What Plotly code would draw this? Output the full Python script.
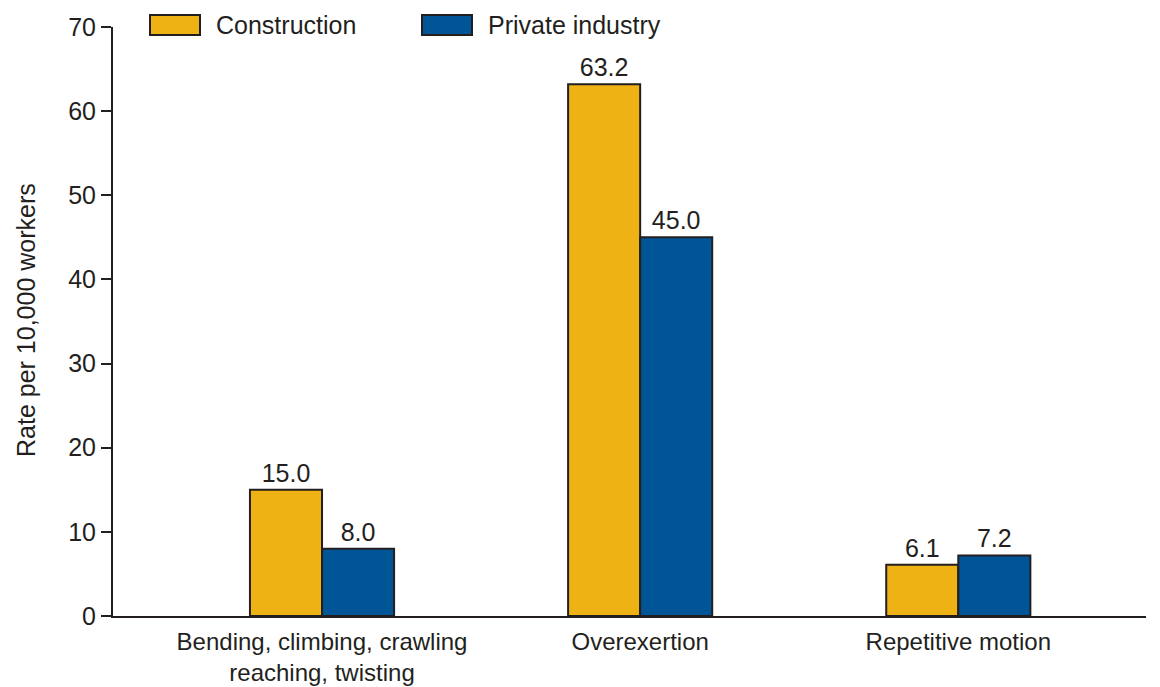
import plotly.graph_objects as go

categories = ["Bending, climbing, crawling<br>reaching, twisting", "Overexertion", "Repetitive motion"]
construction = [15.0, 63.2, 6.1]
private_industry = [8.0, 45.0, 7.2]
series_names = ["Construction", "Private industry"]
y_ticks = [0, 10, 20, 30, 40, 50, 60, 70]
y_title = "Rate per 10,000 workers"

GOLD = "#EFB215"
BLUE = "#005596"
DARK = "#231F20"
FONT = "Liberation Sans, Arial, sans-serif"
FS = 25

W, H = 1160, 687
L, R, T, B = 113, 14, 27, 71
plot_w = W - L - R
plot_h = H - T - B

def px_x(x):
    return (x - L) / plot_w

def px_y(y):
    return (H - B - y) / plot_h

fig = go.Figure()
for name, vals, col in [(series_names[0], construction, GOLD), (series_names[1], private_industry, BLUE)]:
    fig.add_trace(go.Bar(
        x=categories, y=vals, name=name,
        marker=dict(color=col, line=dict(color=DARK, width=2)),
        text=[f"{v:.1f}" for v in vals], textposition="outside",
        textfont=dict(family=FONT, size=FS, color=DARK),
        cliponaxis=False,
    ))

fig.update_layout(
    width=W, height=H,
    margin=dict(l=L, r=R, t=T, b=B, autoexpand=False),
    paper_bgcolor="white", plot_bgcolor="white",
    barmode="group", bargap=0.547, bargroupgap=0,
    showlegend=False,
    font=dict(family=FONT, size=FS, color=DARK),
)
fig.update_xaxes(
    range=[-0.657, 2.59], showgrid=False, zeroline=False, automargin=False,
    showline=True, linecolor=DARK, linewidth=2,
    ticks="outside", ticklen=3, tickcolor="rgba(0,0,0,0)",
    tickfont=dict(family=FONT, size=24, color=DARK),
)
fig.update_yaxes(
    range=[0, 70], tickvals=y_ticks, showgrid=False, zeroline=False, automargin=False,
    showline=True, linecolor=DARK, linewidth=2,
    ticks="outside", ticklen=10, tickwidth=2, tickcolor=DARK,
    tickfont=dict(family=FONT, size=FS, color=DARK),
)

# y-axis title
fig.add_annotation(xref="paper", yref="paper", x=px_x(26), y=px_y(320),
                   text=y_title, textangle=-90, showarrow=False,
                   xanchor="center", yanchor="middle",
                   font=dict(family=FONT, size=FS, color=DARK))

# custom legend
legend_items = [(series_names[0], GOLD, 150), (series_names[1], BLUE, 422)]
for name, col, x0 in legend_items:
    fig.add_shape(type="rect", xref="paper", yref="paper",
                  x0=px_x(x0), x1=px_x(x0 + 50), y0=px_y(35), y1=px_y(15),
                  fillcolor=col, line=dict(color=DARK, width=2))
    fig.add_annotation(xref="paper", yref="paper", x=px_x(x0 + 64), y=px_y(25),
                       text=name, showarrow=False, xanchor="left", yanchor="middle",
                       font=dict(family=FONT, size=FS, color=DARK))

fig.write_html("out.html", config={"displayModeBar": False},
               post_script="document.body.style.margin='0';document.body.style.overflow='hidden';")
